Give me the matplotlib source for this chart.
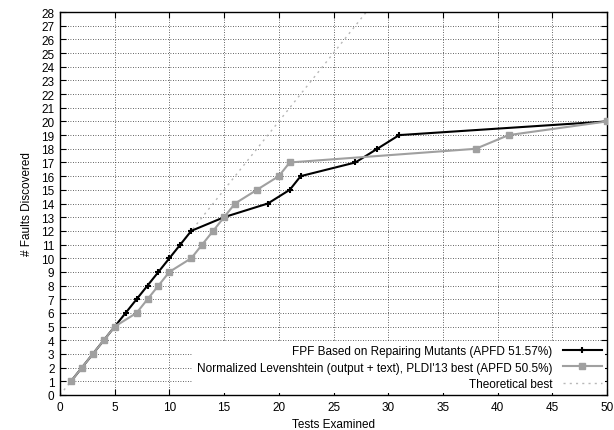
import matplotlib
matplotlib.use("Agg")
import matplotlib.pyplot as plt
import numpy as np

fpf_x = [1, 2, 3, 4, 5, 6, 7, 8, 9, 10, 11, 12, 15, 19, 21, 22, 27, 29, 31, 50]
fpf_y = [1, 2, 3, 4, 5, 6, 7, 8, 9, 10, 11, 12, 13, 14, 15, 16, 17, 18, 19, 20]
lev_x = [1, 2, 3, 4, 5, 7, 8, 9, 10, 12, 13, 14, 15, 16, 18, 20, 21, 38, 41, 50]
lev_y = [1, 2, 3, 4, 5, 6, 7, 8, 9, 10, 11, 12, 13, 14, 15, 16, 17, 18, 19, 20]
best_x = [0, 28]
best_y = [0, 28]

plt.rcParams['font.family'] = ['Liberation Sans', 'DejaVu Sans']
fig = plt.figure(figsize=(6.14, 4.31), dpi=100)
ax = fig.add_axes([60/614, 35/431, 547/614, 383/431])

ax.plot(fpf_x, fpf_y, color='black', lw=1.5, marker='+', ms=5, mew=1.5,
        label='FPF Based on Repairing Mutants (APFD 51.57%)', zorder=3)
ax.plot(lev_x, lev_y, color='#a0a0a0', lw=1.5, marker='s', ms=4.5,
        label="Normalized Levenshtein (output + text), PLDI'13 best (APFD 50.5%)", zorder=4)
ax.plot(best_x, best_y, color='#b8b8b8', lw=1, ls=(0, (1.5, 3)),
        label='Theoretical best', zorder=2)

ax.set_xlim(0, 50)
ax.set_ylim(0, 28)
ax.set_xticks(np.arange(0, 51, 5))
ax.set_yticks(np.arange(0, 29, 1))
ax.grid(True, color='#303030', ls=(0, (1, 2)), lw=0.6)
ax.tick_params(direction='in', top=True, right=True, labelsize=8.5, length=4, pad=4)
for s in ax.spines.values():
    s.set_linewidth(1.0)
ax.set_xlabel('Tests Examined', fontsize=8.5, labelpad=4)
ax.set_ylabel('# Faults Discovered', fontsize=8.5, labelpad=6)

leg = ax.legend(loc='lower right', fontsize=8.5, markerfirst=False, frameon=True,
                framealpha=1, edgecolor='none', fancybox=False, handlelength=3.3,
                borderaxespad=0.15, borderpad=0.3, labelspacing=0.35, handletextpad=0.9)
for t in leg.get_texts():
    t.set_ha('right')
leg._legend_box.align = 'right'

fig.savefig('out.png', dpi=100)
